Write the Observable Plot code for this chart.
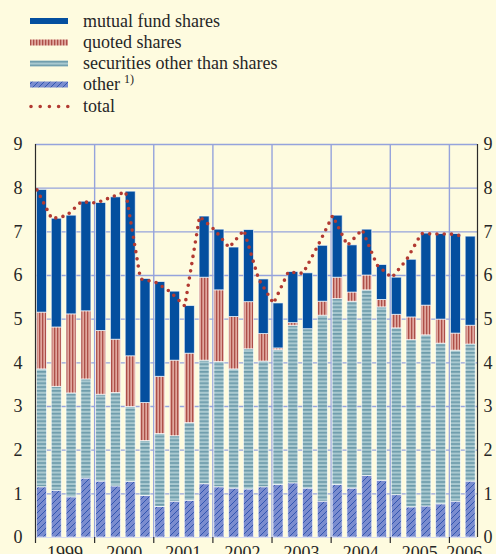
<!DOCTYPE html>
<html>
<head>
<meta charset="utf-8">
<script src="https://cdn.jsdelivr.net/npm/d3@7"></script>
<script src="https://cdn.jsdelivr.net/npm/@observablehq/plot@0.6"></script>
<style>
  html, body { margin: 0; padding: 0; background: #fefbdf; }
  #legend, #chart { display: block; }
  svg text { font-family: "Liberation Serif", "DejaVu Serif", serif; }
</style>
</head>
<body>
<div id="legend"></div>
<div id="chart"></div>
<script>
// ---- data (quarterly, 1999 Q1 – 2006 Q2), percentage points ----
const quarters = [
  "1999Q1","1999Q2","1999Q3","1999Q4",
  "2000Q1","2000Q2","2000Q3","2000Q4",
  "2001Q1","2001Q2","2001Q3","2001Q4",
  "2002Q1","2002Q2","2002Q3","2002Q4",
  "2003Q1","2003Q2","2003Q3","2003Q4",
  "2004Q1","2004Q2","2004Q3","2004Q4",
  "2005Q1","2005Q2","2005Q3","2005Q4",
  "2006Q1","2006Q2"
];
const other = [1.15,1.07,0.92,1.35, 1.28,1.17,1.27,0.95, 0.70,0.82,0.84,1.22, 1.15,1.12,1.10,1.15,
               1.20,1.24,1.12,0.82, 1.20,1.12,1.41,1.30, 0.97,0.69,0.71,0.76, 0.82,1.28];
const securities = [2.70,2.38,2.38,2.27, 1.99,2.14,1.72,1.26, 1.67,1.50,1.78,2.83, 2.87,2.73,3.21,2.88,
               3.09,3.61,3.65,4.26, 4.26,4.28,4.25,3.97, 3.82,3.83,3.92,3.68, 3.46,3.14];
const quoted = [1.30,1.36,1.81,1.56, 1.46,1.22,1.16,0.87, 1.31,1.73,1.59,1.90, 1.64,1.20,1.08,0.63,
               0.04,0.06,0.00,0.32, 0.49,0.21,0.34,0.17, 0.31,0.52,0.68,0.55, 0.39,0.43];
const mutualFund = [2.81,2.49,2.26,2.51, 2.93,3.26,3.77,2.84, 2.17,1.58,1.09,1.40, 1.39,1.59,1.65,1.25,
               1.03,1.17,1.28,1.28, 1.42,1.08,1.05,0.80, 0.85,1.32,1.65,1.96, 2.28,2.04];
const total = [7.96,7.30,7.37,7.69, 7.66,7.79,7.92,5.92, 5.85,5.63,5.30,7.35, 7.05,6.64,7.04,5.91,
               5.36,6.08,6.05,6.68, 7.37,6.69,7.05,6.24, 5.95,6.36,6.96,6.95, 6.95,6.89];
const years = ["1999","2000","2001","2002","2003","2004","2005","2006"];
const yTicks = [0,1,2,3,4,5,6,7,8,9];
const legendLabels = ["mutual fund shares","quoted shares","securities other than shares","other","total"];

// ---- colours / patterns ----
const C = {
  bg: "#fefbdf", grid: "#95a3dc", axis: "#2b2b2b", text: "#262626",
  mutual: "#044f9f", total: "#b23a32"
};
const FILL = {
  mutual: C.mutual,
  quoted: "url(#pQuoted)",
  securities: "url(#pSec)",
  other: "url(#pOther)"
};
const FONT = 18;

// ---- legend (also holds the pattern defs) ----
const leg = d3.select("#legend").append("svg")
  .attr("width", 496).attr("height", 120);
const defs = leg.append("defs");
const pq = defs.append("pattern").attr("id","pQuoted").attr("patternUnits","userSpaceOnUse")
  .attr("width",3).attr("height",10);
pq.append("rect").attr("width",3).attr("height",10).attr("fill","#e0a89f");
pq.append("rect").attr("x",0).attr("width",1.3).attr("height",10).attr("fill","#ad4f48");
const ps = defs.append("pattern").attr("id","pSec").attr("patternUnits","userSpaceOnUse")
  .attr("width",10).attr("height",3.8);
ps.append("rect").attr("width",10).attr("height",3.8).attr("fill","#a9c9d0");
ps.append("rect").attr("y",0).attr("width",10).attr("height",1.7).attr("fill","#6e9cab");
const po = defs.append("pattern").attr("id","pOther").attr("patternUnits","userSpaceOnUse")
  .attr("width",6).attr("height",6);
po.append("rect").attr("width",6).attr("height",6).attr("fill","#7a8ccf");
po.append("path").attr("d","M0,6 L6,0 M-1,1 L1,-1 M5,7 L7,5")
  .attr("stroke","#2a50ad").attr("stroke-width",0.9);

const legY = [21, 42.5, 63.5, 84.5, 106.5];
const legKeys = ["mutual","quoted","securities","other","total"];
legKeys.forEach((k, j) => {
  const cy = legY[j];
  if (k === "total") {
    leg.append("line").attr("x1",31).attr("x2",68).attr("y1",cy).attr("y2",cy)
      .attr("stroke",C.total).attr("stroke-width",3.6).attr("stroke-linecap","round")
      .attr("stroke-dasharray","0 9.2");
  } else {
    leg.append("rect").attr("x",30).attr("y",cy-3).attr("width",38).attr("height",6)
      .attr("fill",FILL[k]);
  }
  const t = leg.append("text").attr("x",83).attr("y",cy+5.5)
    .attr("font-size",FONT).attr("fill",C.text).text(legendLabels[j]);
  if (k === "other") {
    t.append("tspan").attr("font-size",12).attr("dx",4).attr("dy",-7).text("1)");
  }
});

// ---- table for the stacked bars ----
const seriesOrder = [
  ["other", other], ["securities", securities], ["quoted", quoted], ["mutual", mutualFund]
];
const rows = [];
quarters.forEach((q, i) => {
  let base = 0;
  for (const [key, arr] of seriesOrder) {
    rows.push({i, q, key, y1: base, y2: base + arr[i]});
    base += arr[i];
  }
});
const lineRows = quarters.map((q, i) => ({i, q, total: total[i]}));
const yearRows = years.map((y) => {
  const first = quarters.findIndex(q => q.startsWith(y));
  const n = quarters.filter(q => q.startsWith(y)).length;
  return {year: y, start: first, mid: first + n / 2};
});

const BAR_L = 0.1, BAR_R = 0.78;
const xDomain = [0, quarters.length - 0.1];

const rectMarks = seriesOrder.map(([key]) =>
  Plot.rect(rows.filter(r => r.key === key), {
    x1: d => d.i + BAR_L, x2: d => d.i + BAR_R, y1: "y1", y2: "y2",
    fill: FILL[key], stroke: "#ffffff", strokeOpacity: 0.7, strokeWidth: 0.9
  })
);

const chart = Plot.plot({
  width: 496, height: 434,
  marginLeft: 35, marginRight: 19, marginTop: 20, marginBottom: 21,
  style: {background: "transparent", fontFamily: "'Liberation Serif', serif", fontSize: FONT + "px", color: C.text, overflow: "visible"},
  x: {domain: xDomain, axis: null},
  y: {domain: [0, 9], axis: null},
  marks: [
    Plot.ruleY(yTicks.filter(v => v > 0), {stroke: C.grid, strokeWidth: 1.4}),
    Plot.ruleX(yearRows.filter(d => d.start > 0), {x: "start", y1: 0, y2: 9, stroke: C.grid, strokeWidth: 1.4}),
    ...rectMarks,
    Plot.ruleY([0], {stroke: "#d8dcee", strokeWidth: 1}),
    Plot.line(lineRows, {
      x: d => d.i + BAR_L, y: "total", stroke: C.total, strokeWidth: 3.6,
      strokeDasharray: "0 7.3", strokeLinecap: "round", strokeLinejoin: "round"
    }),
    Plot.ruleX([xDomain[0], xDomain[1]], {y1: 0, y2: 9, stroke: C.axis, strokeWidth: 1.2}),
    Plot.ruleX(yearRows, {x: "start", y1: 0, y2: 0, insetBottom: -6, stroke: C.axis, strokeWidth: 1.2}),
    Plot.text(yearRows, {x: "mid", y: 0, text: "year", dy: 16, fontSize: FONT, fill: C.text}),
    Plot.axisY(yTicks, {anchor: "left", tickSize: 0, tickPadding: 13, fontSize: FONT, fill: C.text}),
    Plot.axisY(yTicks, {anchor: "right", tickSize: 0, tickPadding: 6, fontSize: FONT, fill: C.text})
  ]
});
document.getElementById("chart").appendChild(chart);
</script>
</body>
</html>
